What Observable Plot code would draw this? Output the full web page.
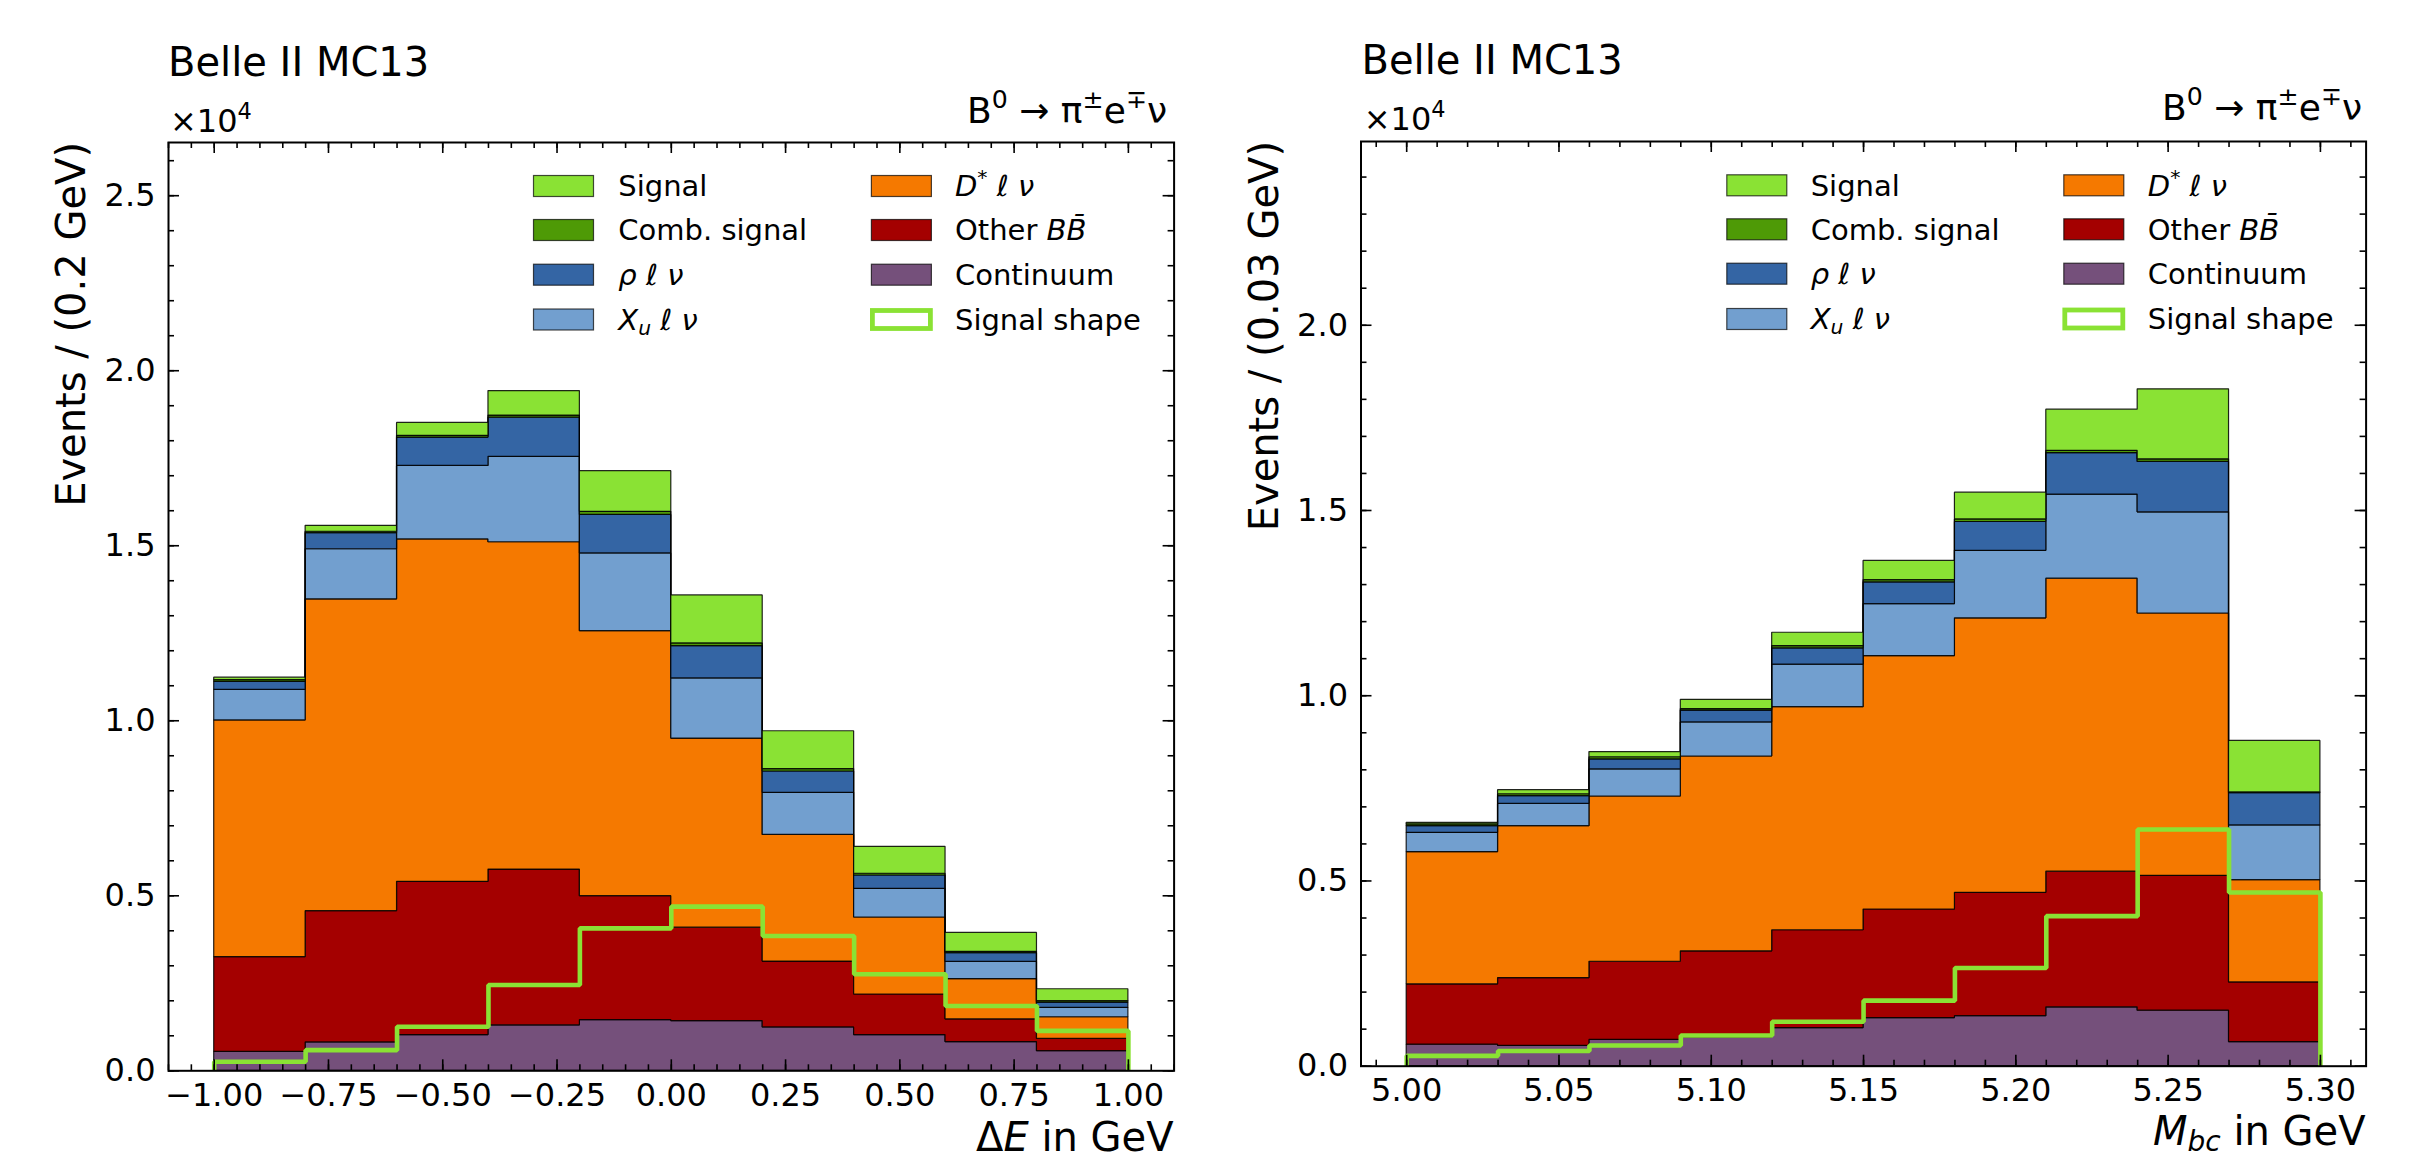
<!DOCTYPE html>
<html><head><meta charset="utf-8">
<script src="https://cdn.jsdelivr.net/npm/d3@7"></script>
<script src="https://cdn.jsdelivr.net/npm/@observablehq/plot@0.6"></script>
<style>
html,body{margin:0;padding:0;background:#fff;}
#wrap{position:relative;width:2423px;height:1160px;overflow:hidden;font-family:"DejaVu Sans";}
#wrap > svg{position:absolute;top:0;}
</style></head><body><div id="wrap"></div>
<script>
// stacking order, bottom to top
const components = ["Continuum", "Other BB", "D* l nu", "Xu l nu", "rho l nu", "Comb. signal", "Signal"];
const componentColors = ["#75507b", "#a40000", "#f57900", "#729fcf", "#3465a4", "#4e9a06", "#8ae234"];
const shapeColor = "#8ae234";

// ---- Delta E panel (events per bin, x 10^4) ----
const dEEdges = [-1.0, -0.8, -0.6, -0.4, -0.2, 0.0, 0.2, 0.4, 0.6, 0.8, 1.0];
const dE_continuum = [0.054, 0.081, 0.102, 0.130, 0.145, 0.142, 0.124, 0.102, 0.082, 0.056];
const dE_otherBB   = [0.271, 0.375, 0.438, 0.445, 0.354, 0.267, 0.188, 0.116, 0.065, 0.035];
const dE_Dstar     = [0.676, 0.891, 0.978, 0.935, 0.757, 0.540, 0.362, 0.220, 0.115, 0.062];
const dE_Xu        = [0.087, 0.143, 0.210, 0.244, 0.222, 0.172, 0.120, 0.082, 0.049, 0.027];
const dE_rho       = [0.023, 0.046, 0.081, 0.112, 0.110, 0.092, 0.061, 0.038, 0.025, 0.015];
const dE_comb      = [0.005, 0.004, 0.005, 0.006, 0.009, 0.008, 0.007, 0.005, 0.004, 0.004];
const dE_signal    = [0.007, 0.017, 0.037, 0.070, 0.116, 0.137, 0.108, 0.077, 0.054, 0.034];
const dE_shape     = [0.026, 0.059, 0.126, 0.245, 0.407, 0.469, 0.385, 0.276, 0.185, 0.114];
const dE_xMajor = [-1.0, -0.75, -0.5, -0.25, 0.0, 0.25, 0.5, 0.75, 1.0];
const dE_yMajor = [0.0, 0.5, 1.0, 1.5, 2.0, 2.5];

// ---- Mbc panel (events per bin, x 10^4) ----
const mbcEdges = [5.00, 5.03, 5.06, 5.09, 5.12, 5.15, 5.18, 5.21, 5.24, 5.27, 5.30];
const mbc_continuum = [0.058, 0.055, 0.071, 0.078, 0.103, 0.130, 0.135, 0.159, 0.150, 0.065];
const mbc_otherBB   = [0.163, 0.183, 0.211, 0.232, 0.264, 0.293, 0.333, 0.366, 0.364, 0.161];
const mbc_Dstar     = [0.357, 0.410, 0.446, 0.526, 0.602, 0.684, 0.741, 0.791, 0.708, 0.276];
const mbc_Xu        = [0.052, 0.060, 0.073, 0.092, 0.115, 0.140, 0.182, 0.227, 0.273, 0.148];
const mbc_rho       = [0.018, 0.021, 0.027, 0.032, 0.044, 0.059, 0.078, 0.112, 0.136, 0.087];
const mbc_comb      = [0.005, 0.005, 0.006, 0.004, 0.006, 0.006, 0.007, 0.006, 0.007, 0.002];
const mbc_signal    = [0.004, 0.011, 0.014, 0.025, 0.036, 0.052, 0.072, 0.111, 0.189, 0.139];
const mbc_shape     = [0.028, 0.041, 0.056, 0.083, 0.120, 0.177, 0.265, 0.405, 0.639, 0.469];
const mbc_xMajor = [5.00, 5.05, 5.10, 5.15, 5.20, 5.25, 5.30];
const mbc_yMajor = [0.0, 0.5, 1.0, 1.5, 2.0];

function panel(cfg) {
  const rows = [];
  cfg.series.forEach((vals, k) => {
    cfg.edges.forEach((e, i) => rows.push({x: e, y: vals[Math.min(i, vals.length - 1)], comp: components[k]}));
  });
  const n = cfg.edges.length;
  const shapeRows = [{x: cfg.edges[0], y: 0}]
    .concat(cfg.edges.map((e, i) => ({x: e, y: cfg.shape[Math.min(i, cfg.shape.length - 1)]})))
    .concat([{x: cfg.edges[n - 1], y: 0}]);
  const H = cfg.height - cfg.mt - cfg.mb;
  const W = cfg.width - cfg.ml - cfg.mr;
  const tk = {stroke: "black", strokeWidth: 1.6};
  return Plot.plot({
    width: cfg.width, height: cfg.height,
    marginLeft: cfg.ml, marginRight: cfg.mr, marginTop: cfg.mt, marginBottom: cfg.mb,
    style: {fontFamily: "DejaVu Sans", background: "transparent", overflow: "visible"},
    x: {domain: cfg.xDomain},
    y: {domain: cfg.yDomain},
    color: {domain: components, range: componentColors},
    marks: [
      Plot.areaY(rows, {x: "x", y: "y", z: "comp", fill: "comp", order: components, curve: "step-after",
        stroke: "black", strokeWidth: 1.2, strokeOpacity: 0.85, strokeLinejoin: "miter"}),
      Plot.line(shapeRows, {x: "x", y: "y", curve: "step-after", stroke: shapeColor, strokeWidth: 4.6,
        strokeLinejoin: "miter", strokeLinecap: "butt"}),
      Plot.tickX(cfg.xMinor, {x: d => d, insetTop: H - 6, ...tk}),
      Plot.tickX(cfg.xMinor, {x: d => d, insetBottom: H - 6, ...tk}),
      Plot.tickX(cfg.xMajor, {x: d => d, insetTop: H - 11, ...tk}),
      Plot.tickX(cfg.xMajor, {x: d => d, insetBottom: H - 11, ...tk}),
      Plot.tickY(cfg.yMinor, {y: d => d, insetRight: W - 6, ...tk}),
      Plot.tickY(cfg.yMinor, {y: d => d, insetLeft: W - 6, ...tk}),
      Plot.tickY(cfg.yMajor, {y: d => d, insetRight: W - 11, ...tk}),
      Plot.tickY(cfg.yMajor, {y: d => d, insetLeft: W - 11, ...tk}),
      Plot.axisX(cfg.xMajor, {anchor: "bottom", tickSize: 0, tickPadding: 12.5, fontSize: 32,
        tickFormat: d3.format(".2f"), label: null}),
      Plot.axisY(cfg.yMajor, {anchor: "left", tickSize: 0, tickPadding: 13, fontSize: 32,
        tickFormat: d3.format(".1f"), label: null}),
      Plot.frame({stroke: "black", strokeWidth: 2})
    ]
  });
}

const wrap = document.getElementById("wrap");

const left = panel({
  width: 1200, height: 1160, ml: 168, mr: 26.4, mt: 142, mb: 89.7,
  xDomain: [-1.1, 1.1], yDomain: [0, 2.652],
  edges: dEEdges,
  series: [dE_continuum, dE_otherBB, dE_Dstar, dE_Xu, dE_rho, dE_comb, dE_signal],
  shape: dE_shape,
  xMajor: dE_xMajor, xMinor: d3.range(-22, 23).map(i => i * 0.05),
  yMajor: dE_yMajor, yMinor: d3.range(0, 27).map(i => i * 0.1)
});
left.style.left = "0px";
wrap.appendChild(left);

const right = panel({
  width: 1223, height: 1160, ml: 160.5, mr: 57.4, mt: 141, mb: 94.3,
  xDomain: [4.985, 5.315], yDomain: [0, 2.496],
  edges: mbcEdges,
  series: [mbc_continuum, mbc_otherBB, mbc_Dstar, mbc_Xu, mbc_rho, mbc_comb, mbc_signal],
  shape: mbc_shape,
  xMajor: mbc_xMajor, xMinor: d3.range(499, 532).map(i => i / 100),
  yMajor: mbc_yMajor, yMinor: d3.range(0, 25).map(i => i * 0.1)
});
right.style.left = "1200px";
wrap.appendChild(right);

// ---- overlay texts and legends ----
const ov = d3.create("svg").attr("width", 2423).attr("height", 1160)
  .style("left", "0px").style("pointer-events", "none")
  .attr("font-family", "DejaVu Sans").style("white-space", "pre");
wrap.appendChild(ov.node());

function rich(x, y, parts, size, anchor = "start", transform = null) {
  const t = ov.append("text").attr("x", x).attr("y", y).attr("font-size", size)
    .attr("text-anchor", anchor).attr("fill", "black").style("white-space", "pre");
  if (transform) t.attr("transform", transform);
  let shift = 0;
  for (const p of parts) {
    const [s, o] = typeof p === "string" ? [p, {}] : p;
    const target = o.sup ? -0.42 * size : o.sub ? 0.16 * size : 0;
    const ts = t.append("tspan").text(s).attr("dy", target - shift);
    shift = target;
    if (o.sup || o.sub) ts.attr("font-size", size * 0.7);
    if (o.it) ts.attr("font-style", "italic");
  }
  return t;
}

const decay = ["B", ["0", {sup: true}], " → π", ["±", {sup: true}], "e", ["∓", {sup: true}], "ν"];

// left panel texts
rich(168, 76, ["Belle II MC13"], 40);
rich(170, 132, ["×10", ["4", {sup: true}]], 32);
rich(1167, 123, decay, 36, "end");
rich(1173.6, 1151, ["Δ", ["E", {it: true}], " in GeV"], 40, "end");
rich(0, 0, ["Events / (0.2 GeV)"], 40, "end", "translate(85,142) rotate(-90)");

// right panel texts
rich(1361.5, 74, ["Belle II MC13"], 40);
rich(1363.8, 130, ["×10", ["4", {sup: true}]], 32);
rich(2362, 120, decay, 36, "end");
rich(2365.6, 1145, [["M", {it: true}], ["bc", {it: true, sub: true}], " in GeV"], 40, "end");
rich(0, 0, ["Events / (0.03 GeV)"], 40, "end", "translate(1278,141) rotate(-90)");

// legends
const legendCol1 = [
  {fill: "#8ae234", label: ["Signal"]},
  {fill: "#4e9a06", label: ["Comb. signal"]},
  {fill: "#3465a4", label: [["ρ", {it: true}], " ", ["ℓ", {it: true}], " ", ["ν", {it: true}]]},
  {fill: "#729fcf", label: [["X", {it: true}], ["u", {it: true, sub: true}], " ", ["ℓ", {it: true}], " ", ["ν", {it: true}]]}
];
const legendCol2 = [
  {fill: "#f57900", label: [["D", {it: true}], ["*", {sup: true}], " ", ["ℓ", {it: true}], " ", ["ν", {it: true}]]},
  {fill: "#a40000", label: ["Other ", ["BB\u0304", {it: true}]]},
  {fill: "#75507b", label: ["Continuum"]},
  {fill: null, label: ["Signal shape"]}
];
function legend(px1, tx1, px2, tx2, rowsY) {
  [[legendCol1, px1, tx1], [legendCol2, px2, tx2]].forEach(([items, px, tx]) => {
    items.forEach((it, i) => {
      const cy = rowsY[i];
      if (it.fill) {
        ov.append("rect").attr("x", px).attr("y", cy - 10.5).attr("width", 60).attr("height", 21)
          .attr("fill", it.fill).attr("stroke", "black").attr("stroke-opacity", 0.7).attr("stroke-width", 1.2);
      } else {
        ov.append("rect").attr("x", px + 1).attr("y", cy - 9).attr("width", 58).attr("height", 18)
          .attr("fill", "white").attr("stroke", shapeColor).attr("stroke-width", 4.8);
      }
      rich(tx, cy + 10.4, it.label, 29);
    });
  });
}
legend(533.5, 618.3, 871.4, 955, [186, 230, 274.7, 319.5]);
legend(1726.8, 1810.7, 2063.8, 2147.8, [185.3, 229.3, 273.7, 319]);
</script></body></html>
